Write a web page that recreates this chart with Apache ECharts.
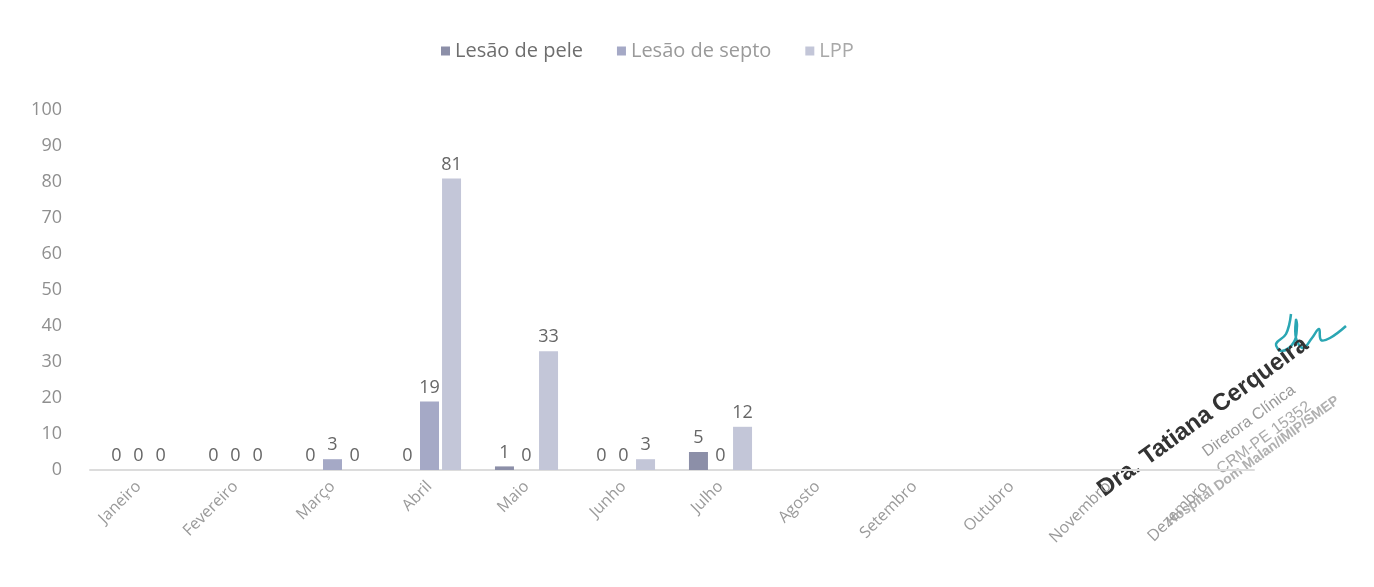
<!DOCTYPE html>
<html>
<head>
<meta charset="utf-8">
<script src="https://cdn.jsdelivr.net/npm/echarts@6/dist/echarts.min.js"></script>
<style>
  html, body { margin: 0; padding: 0; background: #fff; }
  #myEcharts { width: 1374px; height: 587px; }
</style>
</head>
<body>
<div id="myEcharts"></div>
<script>
// dados
var meses = ["Janeiro", "Fevereiro", "Março", "Abril", "Maio", "Junho", "Julho", "Agosto", "Setembro", "Outubro", "Novembro", "Dezembro"];
var lesaoPele = [0, 0, 0, 0, 1, 0, 5, null, null, null, null, null];
var lesaoSepto = [0, 0, 3, 19, 0, 0, 0, null, null, null, null, null];
var lpp = [0, 0, 0, 81, 33, 3, 12, null, null, null, null, null];
var nomes = ["Lesão de pele", "Lesão de septo", "LPP"];
var cores = ["#8c8fa8", "#a5a9c6", "#c3c6d8"];
var coresLegenda = ["#6e6e6e", "#9a9a9a", "#a8a8a8"];

var myChart = echarts.init(document.getElementById("myEcharts"));

var labelCfg = {
	show: true,
	position: 'top',
	distance: 5,
	color: '#666',
	fontSize: 18,
	fontFamily: 'Open Sans'
};

var seriesArray = [lesaoPele, lesaoSepto, lpp];

// carimbo (texto girado)
var carimbo = function(texto, x, y, font, cor) {
	return {
		type: 'text',
		x: x,
		y: y,
		rotation: 0.63,
		style: {
			text: texto,
			fill: cor,
			font: font,
			align: 'center',
			verticalAlign: 'middle'
		}
	};
};

var option = {
	backgroundColor: '#fff',
	textStyle: { fontFamily: 'Open Sans' },
	legend: {
		top: 36,
		left: 436,
		itemWidth: 9,
		itemHeight: 9,
		itemGap: 34,
		icon: 'rect',
		textStyle: { fontSize: 20, fontFamily: 'Open Sans' },
		data: []
	},
	grid: {
		left: 90,
		right: 120,
		top: 110,
		bottom: 117
	},
	xAxis: [{
		type: 'category',
		data: meses,
		axisLine: { lineStyle: { color: '#dcdcdc', width: 2 } },
		axisTick: { show: false },
		axisLabel: {
			interval: 0,
			rotate: 45,
			color: '#9a9a9a',
			fontSize: 16,
			margin: 14
		}
	}],
	yAxis: [{
		type: 'value',
		min: 0,
		max: 100,
		interval: 10,
		axisLine: { show: false },
		axisTick: { show: false },
		splitLine: { show: false },
		axisLabel: { color: '#8f8f8f', fontSize: 18, margin: 28 }
	}],
	graphic: [{
		// rubrica
		type: 'polyline',
		shape: {
			points: [[1291, 314], [1286, 334], [1276, 344], [1282, 351], [1294, 342], [1297, 326], [1296, 320], [1296, 338], [1303, 348], [1312, 338], [1319, 329], [1321, 340], [1330, 338], [1346, 326]],
			smooth: 0.4
		},
		style: { fill: null, stroke: '#2aa6b3', lineWidth: 2.5 }
	},
		carimbo('Dra. Tatiana Cerqueira', 1203, 417, 'bold 24px "Liberation Sans"', '#333'),
		carimbo('Diretora Clínica', 1249, 421, '16px "Liberation Sans"', '#999'),
		carimbo('CRM-PE 15352', 1264, 438, '16px "Liberation Sans"', '#aaa'),
		carimbo('Hospital Dom Malan/IMIP/SMEP', 1253, 461, 'bold 14px "Liberation Sans"', '#b0b0b0')
	],
	series: []
};

seriesArray.forEach(function(item, index) {
	option.legend.data.push({
		name: nomes[index],
		textStyle: { color: coresLegenda[index] }
	});
	option.series.push({
		name: nomes[index],
		type: 'bar',
		barWidth: 19,
		barGap: '16%',
		itemStyle: { color: cores[index] },
		label: labelCfg,
		data: item
	});
});

myChart.setOption(option, true);
</script>
</body>
</html>
